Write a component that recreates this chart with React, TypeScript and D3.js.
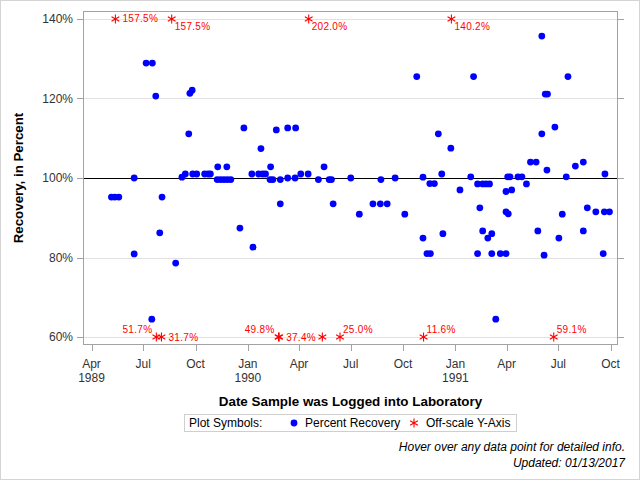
import React from 'react';
import * as d3 from 'd3';

// percent recovery samples: [date logged, recovery %]
const recovery: [string, number][] = [
  ['1989-05-06', 95.2], ['1989-05-12', 95.2], ['1989-05-19', 95.2],
  ['1989-06-15', 100.0], ['1989-06-15', 80.9],
  ['1989-07-06', 128.9], ['1989-07-17', 128.9], ['1989-07-16', 64.5],
  ['1989-07-23', 120.6], ['1989-07-30', 86.2], ['1989-08-03', 95.2],
  ['1989-08-27', 78.6], ['1989-09-07', 100.2], ['1989-09-13', 101.0],
  ['1989-09-19', 111.1], ['1989-09-21', 121.3], ['1989-09-25', 122.1],
  ['1989-09-26', 101.0], ['1989-10-03', 101.0], ['1989-10-17', 101.0],
  ['1989-10-23', 101.0], ['1989-10-27', 101.0], ['1989-11-09', 102.8],
  ['1989-11-25', 102.8], ['1989-11-08', 99.6], ['1989-11-14', 99.6],
  ['1989-11-20', 99.6], ['1989-11-26', 99.6], ['1989-12-02', 99.6],
  ['1989-12-18', 87.4], ['1989-12-25', 112.6],
  ['1990-01-08', 101.0], ['1990-01-10', 82.6], ['1990-01-20', 101.0],
  ['1990-01-24', 107.4], ['1990-01-27', 101.0], ['1990-02-01', 101.0],
  ['1990-02-10', 102.8], ['1990-02-09', 99.6], ['1990-02-14', 99.6],
  ['1990-02-20', 112.1], ['1990-02-27', 99.6], ['1990-02-27', 93.5],
  ['1990-03-12', 112.6], ['1990-03-26', 112.6], ['1990-03-12', 100.0],
  ['1990-03-25', 100.0], ['1990-04-04', 101.0], ['1990-04-17', 101.0],
  ['1990-05-05', 99.6], ['1990-05-15', 102.8], ['1990-05-24', 99.6],
  ['1990-05-28', 99.6], ['1990-05-31', 93.5], ['1990-07-01', 100.0],
  ['1990-07-16', 90.9], ['1990-08-09', 93.5], ['1990-08-22', 93.5],
  ['1990-08-23', 99.6], ['1990-09-03', 93.5], ['1990-09-17', 100.0],
  ['1990-10-04', 90.9], ['1990-10-25', 125.5], ['1990-11-05', 84.9],
  ['1990-11-05', 100.2], ['1990-11-12', 81.0], ['1990-11-18', 81.0],
  ['1990-11-17', 98.6], ['1990-11-25', 98.6], ['1990-12-02', 111.1],
  ['1990-12-08', 101.0], ['1990-12-10', 86.0], ['1990-12-24', 107.5],
  ['1991-01-09', 97.0], ['1991-01-28', 100.3], ['1991-02-02', 125.5],
  ['1991-02-09', 81.0], ['1991-02-09', 98.5], ['1991-02-13', 92.5],
  ['1991-02-18', 86.7], ['1991-02-18', 98.5], ['1991-02-24', 98.5],
  ['1991-02-27', 84.9], ['1991-03-02', 98.5], ['1991-03-06', 86.0],
  ['1991-03-06', 81.0], ['1991-03-13', 64.5], ['1991-03-21', 81.0],
  ['1991-03-31', 81.0], ['1991-03-31', 96.6], ['1991-03-31', 91.5],
  ['1991-04-04', 91.0], ['1991-04-03', 100.3], ['1991-04-07', 100.3],
  ['1991-04-10', 97.0], ['1991-04-21', 100.3], ['1991-04-28', 100.3],
  ['1991-05-06', 98.5], ['1991-05-13', 104.0], ['1991-05-23', 104.0],
  ['1991-05-26', 86.7], ['1991-06-02', 135.7], ['1991-06-02', 111.1],
  ['1991-06-06', 80.6], ['1991-06-08', 121.1], ['1991-06-12', 121.1],
  ['1991-06-11', 102.0], ['1991-06-25', 112.8], ['1991-07-02', 84.9],
  ['1991-07-08', 90.9], ['1991-07-15', 100.3], ['1991-07-18', 125.5],
  ['1991-07-31', 103.0], ['1991-08-14', 104.0], ['1991-08-14', 86.7],
  ['1991-08-21', 92.5], ['1991-09-05', 91.5], ['1991-09-18', 81.0],
  ['1991-09-20', 91.5], ['1991-09-21', 101.0], ['1991-09-29', 91.5],
];

// samples outside the 60-140% window
const offScaleDates = [
  '1989-05-13', '1989-08-20', '1990-04-18', '1990-12-25',
  '1989-07-24', '1989-08-02', '1990-02-24', '1990-02-25',
  '1990-05-12', '1990-06-12', '1990-11-06', '1991-06-23',
];
const offScaleValues = [157.5, 157.5, 202.0, 140.2, 51.7, 31.7, 49.8, 37.4, 45.0, 25.0, 11.6, 59.1];
// where each label was placed (collisions hide one)
const offScaleLabelSide = [
  'right', 'belowRight', 'belowRight', 'belowRight',
  'aboveLeft', 'right', 'aboveLeft', 'right',
  'hidden', 'aboveRight', 'aboveRight', 'aboveRight',
];

const yTicks = [60, 80, 100, 120, 140];
const yDomain = [58, 142];
const xDomain = ['1989-03-17', '1991-10-14'];

const FONT = '"Liberation Sans", Arial, sans-serif';
const BLUE = '#0000ff';
const RED = '#ff0000';

const parse = d3.timeParse('%Y-%m-%d');
const crisp = (v: number) => Math.round(v) + 0.5;

const App = () => {
  const plot = { left: 83, top: 11, right: 618, bottom: 345 };

  const x = d3
    .scaleTime()
    .domain(xDomain.map((d) => parse(d) as Date))
    .range([plot.left, plot.right]);
  const y = d3.scaleLinear().domain(yDomain).range([plot.bottom, plot.top]);

  const xTicks = x.ticks(d3.timeMonth.every(3) as d3.TimeInterval);
  const fmtMonth = d3.timeFormat('%b');
  const fmtYear = d3.timeFormat('%Y');

  const star = d3.symbol(d3.symbolAsterisk, 56)();

  const offScale = offScaleDates.map((d, i) => {
    const v = offScaleValues[i];
    return {
      date: parse(d) as Date,
      value: v,
      shown: Math.max(yTicks[0], Math.min(yTicks[yTicks.length - 1], v)),
      side: offScaleLabelSide[i],
    };
  });

  const labelOffset: Record<string, { dx: number; dy: number; anchor: string }> = {
    right: { dx: 7, dy: 0, anchor: 'start' },
    belowRight: { dx: 3, dy: 8, anchor: 'start' },
    aboveRight: { dx: 3, dy: -8, anchor: 'start' },
    aboveLeft: { dx: -4, dy: -8, anchor: 'end' },
  };

  return (
    <svg
      width={640}
      height={480}
      style={{ position: 'absolute', left: 0, top: 0, fontFamily: FONT, background: '#fff' }}
    >
      <rect x={0.5} y={0.5} width={639} height={479} fill="#fff" stroke="#d4d4d4" />

      {/* grid */}
      {yTicks
        .filter((t) => t !== 100)
        .map((t) => (
          <line key={t} x1={plot.left} x2={plot.right} y1={crisp(y(t))} y2={crisp(y(t))} stroke="#e1e1e1" />
        ))}
      <line x1={plot.left} x2={plot.right} y1={crisp(y(100))} y2={crisp(y(100))} stroke="#000" strokeWidth={1} />

      {/* frame */}
      <rect
        x={plot.left + 0.5}
        y={plot.top + 0.5}
        width={plot.right - plot.left - 1}
        height={plot.bottom - plot.top - 1}
        fill="none"
        stroke="#a3a3a3"
      />

      {/* y axis */}
      {yTicks.map((t) => (
        <g key={t}>
          <line x1={plot.left - 6} x2={plot.left} y1={crisp(y(t))} y2={crisp(y(t))} stroke="#a3a3a3" />
          <line x1={plot.right} x2={plot.right + 6} y1={crisp(y(t))} y2={crisp(y(t))} stroke="#a3a3a3" />
          <text x={plot.left - 10} y={y(t)} dy="0.35em" textAnchor="end" fontSize={12} fill="#333">
            {t}%
          </text>
        </g>
      ))}
      <text
        transform={`translate(23, ${(plot.top + plot.bottom) / 2}) rotate(-90)`}
        textAnchor="middle"
        fontSize={13.3}
        fontWeight="bold"
        fill="#000"
      >
        Recovery, in Percent
      </text>

      {/* x axis */}
      {xTicks.map((t, i) => (
        <g key={+t}>
          <line x1={crisp(x(t))} x2={crisp(x(t))} y1={plot.bottom} y2={plot.bottom + 6} stroke="#a3a3a3" />
          <text x={x(t)} y={367.5} textAnchor="middle" fontSize={12} fill="#333">
            {fmtMonth(t)}
          </text>
          {(i === 0 || t.getMonth() === 0) && (
            <text x={x(t)} y={381.5} textAnchor="middle" fontSize={12} fill="#333">
              {fmtYear(t)}
            </text>
          )}
        </g>
      ))}
      <text
        x={(plot.left + plot.right) / 2}
        y={405.5}
        textAnchor="middle"
        fontSize={13.4}
        fontWeight="bold"
        fill="#000"
      >
        Date Sample was Logged into Laboratory
      </text>

      {/* points */}
      {recovery.map(([d, v], i) => (
        <circle key={i} cx={x(parse(d) as Date)} cy={y(v)} r={3.4} fill={BLUE} />
      ))}

      {/* off-scale markers */}
      {offScale.map((d, i) => {
        const px = x(d.date);
        const py = y(d.shown);
        const o = labelOffset[d.side];
        return (
          <g key={i}>
            <path d={star as string} transform={`translate(${px},${py})`} fill="none" stroke={RED} strokeWidth={1.1} />
            {o && (
              <text
                x={px + o.dx}
                y={py + o.dy}
                dy="0.35em"
                textAnchor={o.anchor}
                fontSize={10}
                fill={RED}
                letterSpacing={0.3}
              >
                {d.value.toFixed(1)}%
              </text>
            )}
          </g>
        );
      })}

      {/* legend */}
      <rect x={184.5} y={414.5} width={332} height={17} fill="#fff" stroke="#cfcfcf" />
      <text x={189} y={423} dy="0.35em" fontSize={12} fill="#000">
        Plot Symbols:
      </text>
      <circle cx={294} cy={423} r={3.4} fill={BLUE} />
      <text x={305} y={423} dy="0.35em" fontSize={12} fill="#000">
        Percent Recovery
      </text>
      <path d={star as string} transform="translate(414,423)" fill="none" stroke={RED} strokeWidth={1.1} />
      <text x={426} y={423} dy="0.35em" fontSize={12} fill="#000">
        Off-scale Y-Axis
      </text>

      {/* footnotes */}
      <text x={625} y={447} dy="0.35em" textAnchor="end" fontSize={12} fontStyle="italic" fill="#000">
        Hover over any data point for detailed info.
      </text>
      <text x={625} y={462.5} dy="0.35em" textAnchor="end" fontSize={12} fontStyle="italic" fill="#000">
        Updated: 01/13/2017
      </text>
    </svg>
  );
};

export default App;
